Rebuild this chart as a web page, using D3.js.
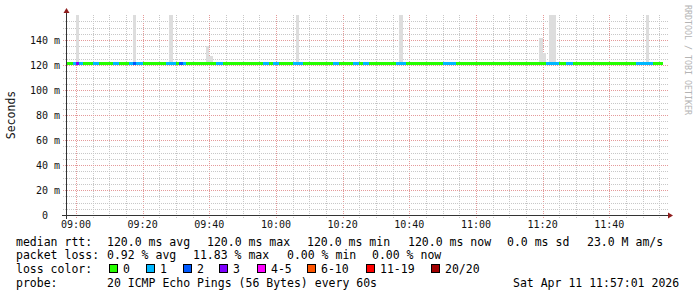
<!DOCTYPE html>
<html>
<head>
<meta charset="utf-8">
<script src="https://cdn.jsdelivr.net/npm/d3@7"></script>
<style>
  body { margin: 0; background: #fff; }
  text { font-family: "DejaVu Sans Mono", monospace; }
</style>
</head>
<body>
<div id="chart"></div>
<script>
var svg_width = 697;
var svg_height = 297;

var plot = { left: 66, top: 15, right: 666, bottom: 215 };

// Data: one value per 60s step starting 08:57
var median_rtt = [
  120,120,120,120,120,120,120,120,120,120,120,120,120,120,120,120,120,120,120,120,
  120,120,120,120,120,120,120,120,120,120,120,120,120,120,120,120,120,120,120,120,
  120,120,120,120,120,120,120,120,120,120,120,120,120,120,120,120,120,120,120,120,
  120,120,120,120,120,120,120,120,120,120,120,120,120,120,120,120,120,120,120,120,
  120,120,120,120,120,120,120,120,120,120,120,120,120,120,120,120,120,120,120,120,
  120,120,120,120,120,120,120,120,120,120,120,120,120,120,120,120,120,120,120,120,
  120,120,120,120,120,120,120,120,120,120,120,120,120,120,120,120,120,120,120,120,
  120,120,120,120,120,120,120,120,120,120,120,120,120,120,120,120,120,120,120,120,
  120,120,120,120,120,120,120,120,120,120,120,120,120,120,120,120,120,120,120
];

// lost pings (of 20) per step
var loss_count = [
  0,0,1,3,1,0,0,0,1,1, 0,0,0,0,1,1,0,0,0,1,
  2,1,1,0,0,0,0,0,0,0, 1,1,1,0,2,1,0,0,0,0,
  0,0,0,0,0,1,1,0,0,0, 0,0,0,0,0,0,0,0,0,1,
  1,0,1,1,0,0,0,0,1,1, 1,0,0,0,0,0,0,0,0,0,
  1,1,0,0,0,0,1,1,0,1, 1,0,0,0,0,0,0,0,0,1,
  1,1,0,0,0,0,0,0,0,0, 0,0,0,1,1,1,1,0,0,0,
  0,0,0,0,0,0,0,0,0,0, 0,0,0,0,0,0,0,0,0,0,
  0,0,0,0,1,1,1,1,0,0, 1,1,0,0,0,0,0,0,0,0,
  0,0,0,0,0,0,0,0,0,0, 0,1,1,1,1,1,0,0,0
];

// smoke (ping spread) above the median, steps where visible
var smoke_steps = [3, 20, 31, 42, 43, 69, 100, 142, 143, 145, 146, 174];
var smoke_top = [250, 250, 250, 135, 127, 250, 250, 142, 130, 250, 250, 250];

var loss_labels = ["0", "1", "2", "3", "4-5", "6-10", "11-19", "20/20"];
var loss_colors = ["#26ff00", "#00b8ff", "#0059ff", "#7e00ff", "#ff00ff", "#ff5500", "#ff0000", "#a10000"];

var rtt_stats = ["120.0 ms avg", "120.0 ms max", "120.0 ms min", "120.0 ms now", "0.0 ms sd", "23.0 M am/s"];
var loss_stats = ["0.92 % avg", "11.83 % max", "0.00 % min", "0.00 % now"];
var probe_text = "20 ICMP Echo Pings (56 Bytes) every 60s";
var date_text = "Sat Apr 11 11:57:01 2026";

var start_time = new Date(2026, 3, 11, 8, 57, 1);
var end_time = new Date(2026, 3, 11, 11, 57, 1);
var first_step = new Date(2026, 3, 11, 8, 57, 0);

// Scales
var x_scale = d3.scaleTime().domain([start_time, end_time]).range([plot.left, plot.right]);
var y_scale = d3.scaleLinear().domain([0, 160]).range([plot.bottom, plot.top]);
var loss_scale = d3.scaleThreshold().domain([1, 2, 3, 4, 6, 11, 20]).range(loss_colors);

function step_x(i) {
  return Math.max(plot.left, x_scale(d3.timeMinute.offset(first_step, i)));
}

var svg = d3.select("#chart").append("svg")
  .attr("width", svg_width)
  .attr("height", svg_height)
  .style("display", "block");

svg.append("defs").append("clipPath").attr("id", "plot_clip")
  .append("rect")
  .attr("x", plot.left).attr("y", plot.top)
  .attr("width", plot.right - plot.left + 2).attr("height", plot.bottom - plot.top);

// Grid
var grid = svg.append("g").attr("shape-rendering", "crispEdges");

var x_minor = d3.timeMinute.every(5).range(start_time, end_time);
grid.selectAll(".vgrid").data(x_minor).enter().append("line")
  .attr("x1", d => Math.round(x_scale(d)) + 0.5)
  .attr("x2", d => Math.round(x_scale(d)) + 0.5)
  .attr("y1", plot.top)
  .attr("y2", plot.bottom + 3)
  .attr("stroke", d => d.getMinutes() % 20 === 0 ? "#e49a9a" : "#c8c8c8")
  .attr("stroke-dasharray", "1,1");

var y_minor = y_scale.ticks(32).filter(v => v > 0 && v < 160);
grid.selectAll(".hgrid").data(y_minor).enter().append("line")
  .attr("x1", plot.left - 3)
  .attr("x2", plot.right + 3)
  .attr("y1", d => Math.round(y_scale(d)) + 0.5)
  .attr("y2", d => Math.round(y_scale(d)) + 0.5)
  .attr("stroke", d => d % 20 === 0 ? "#e49a9a" : "#c8c8c8")
  .attr("stroke-dasharray", "1,1");

// Smoke
var data_group = svg.append("g").attr("clip-path", "url(#plot_clip)").attr("shape-rendering", "crispEdges");

data_group.selectAll(".smoke").data(smoke_steps).enter().append("rect")
  .attr("x", d => step_x(d))
  .attr("width", d => step_x(d + 1) - step_x(d))
  .attr("y", (d, i) => y_scale(smoke_top[i]))
  .attr("height", (d, i) => y_scale(median_rtt[d]) - y_scale(smoke_top[i]))
  .attr("fill", "#dddddd");

// Median line coloured by loss
data_group.selectAll(".median").data(median_rtt).enter().append("rect")
  .attr("x", (d, i) => step_x(i))
  .attr("width", (d, i) => step_x(i + 1) - step_x(i))
  .attr("y", d => Math.round(y_scale(d)) - 3)
  .attr("height", 3)
  .attr("fill", (d, i) => loss_scale(loss_count[i]));

// Axes
var axis_color = "#333";
var arrow_color = "#8f1d1d";

svg.append("line")
  .attr("x1", plot.left - 4).attr("x2", plot.right + 3)
  .attr("y1", plot.bottom + 0.5).attr("y2", plot.bottom + 0.5)
  .attr("stroke", axis_color).attr("shape-rendering", "crispEdges");
svg.append("line")
  .attr("x1", plot.left + 0.5).attr("x2", plot.left + 0.5)
  .attr("y1", plot.bottom + 4).attr("y2", plot.top - 3)
  .attr("stroke", axis_color).attr("shape-rendering", "crispEdges");

svg.append("path")
  .attr("d", `M${plot.right + 2},${plot.bottom - 2.5} L${plot.right + 7},${plot.bottom + 0.5} L${plot.right + 2},${plot.bottom + 3.5} Z`)
  .attr("fill", arrow_color);
svg.append("path")
  .attr("d", `M${plot.left - 2.5},${plot.top - 2} L${plot.left + 0.5},${plot.top - 7} L${plot.left + 3.5},${plot.top - 2} Z`)
  .attr("fill", arrow_color);

// X tick labels
var x_major = d3.timeMinute.every(20).range(start_time, end_time);
svg.selectAll(".xlabel").data(x_major).enter().append("text")
  .attr("x", d => x_scale(d))
  .attr("y", plot.bottom + 13)
  .attr("text-anchor", "middle")
  .attr("font-size", "10px")
  .attr("fill", "#111")
  .text(d3.timeFormat("%H:%M"));

// Y tick labels
var y_major = y_scale.ticks(8).filter(v => v < 160);
svg.selectAll(".ylabel").data(y_major).enter().append("text")
  .attr("x", 60)
  .attr("y", d => y_scale(d) + 3.5)
  .attr("text-anchor", "end")
  .attr("font-size", "10px")
  .attr("fill", "#111")
  .style("white-space", "pre")
  .text(d => d === 0 ? "0\u00a0\u00a0" : d + " m");

// Y axis title
svg.append("text")
  .attr("transform", `translate(15, ${(plot.top + plot.bottom) / 2}) rotate(-90)`)
  .attr("text-anchor", "middle")
  .attr("font-size", "11.5px")
  .attr("fill", "#111")
  .text("Seconds");

// Watermark
svg.append("text")
  .attr("transform", "translate(684.5, 5) rotate(90)")
  .attr("font-size", "8.3px")
  .attr("fill", "#b4b4b4")
  .text("RRDTOOL / TOBI OETIKER");

// Legend
var legend = svg.append("g").attr("font-size", "11.5px").attr("fill", "#000");
var row_y = [245.5, 259, 273, 286.5];

legend.append("text").attr("x", 16).attr("y", row_y[0]).text("median rtt:");
var rtt_x = [107, 207, 307, 408, 507, 587];
rtt_stats.forEach(function(s, i) {
  legend.append("text").attr("x", rtt_x[i]).attr("y", row_y[0]).text(s);
});

legend.append("text").attr("x", 16).attr("y", row_y[1]).text("packet loss:");
var loss_x = [107, 193, 287, 372];
loss_stats.forEach(function(s, i) {
  legend.append("text").attr("x", loss_x[i]).attr("y", row_y[1]).text(s);
});

legend.append("text").attr("x", 16).attr("y", row_y[2]).text("loss color:");
var box_x = [109, 146, 183, 219, 257, 307, 366, 431];
loss_labels.forEach(function(s, i) {
  legend.append("rect")
    .attr("x", box_x[i] + 0.5).attr("y", row_y[2] - 8.5)
    .attr("width", 8).attr("height", 8)
    .attr("fill", loss_colors[i])
    .attr("stroke", "#000").attr("stroke-width", 1)
    .attr("shape-rendering", "crispEdges");
  legend.append("text").attr("x", box_x[i] + 14).attr("y", row_y[2]).text(s);
});

legend.append("text").attr("x", 16).attr("y", row_y[3]).text("probe:");
legend.append("text").attr("x", 107).attr("y", row_y[3]).text(probe_text);
legend.append("text").attr("x", 513).attr("y", row_y[3]).text(date_text);
</script>
</body>
</html>
